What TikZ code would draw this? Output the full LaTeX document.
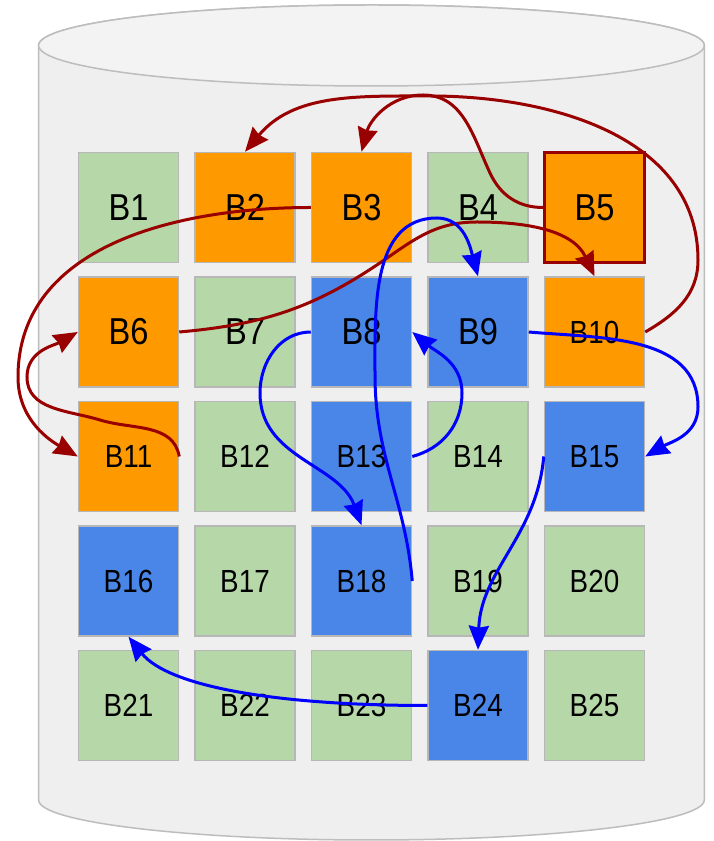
\documentclass[tikz,border=0pt]{standalone}
\usepackage{fontspec}
\setmainfont{Liberation Sans}[FakeStretch=0.87]
\usetikzlibrary{arrows.meta}
\definecolor{blkgreen}{HTML}{B6D7A8}
\definecolor{blkorange}{HTML}{FF9900}
\definecolor{blkblue}{HTML}{4A86E8}
\definecolor{blkline}{HTML}{B7B7B7}
\definecolor{linkred}{HTML}{990000}
\definecolor{linkblue}{HTML}{0000FF}
\definecolor{cylfill}{HTML}{EFEFEF}
\definecolor{cyltop}{HTML}{F3F3F3}
\definecolor{cylline}{HTML}{BDBDBD}
\newcommand{\blkbigfont}{\fontsize{37.5}{40}\selectfont}
\newcommand{\blksmallfont}{\fontsize{32}{34}\selectfont}

\begin{document}
\begin{tikzpicture}[
  x=1pt, y=1pt,
  blk/.style={rectangle, minimum width=100pt, minimum height=110pt, inner sep=0pt, draw=blkline, line width=1.5pt, text=black},
  greenblk/.style={blk, fill=blkgreen},
  orangeblk/.style={blk, fill=blkorange},
  blueblk/.style={blk, fill=blkblue},
  selblk/.style={orangeblk, draw=linkred, line width=3pt},
  redarr/.style={-{Stealth[length=24pt, width=20pt, inset=2pt]}, line width=3pt, draw=linkred},
  bluearr/.style={-{Stealth[length=24pt, width=20pt, inset=2pt]}, line width=3pt, draw=linkblue}
]
  \fill[white] (0,0) rectangle (714,841);
  \useasboundingbox (0,0) rectangle (714,841);

  % disk (cylinder)
  \fill[cylfill, draw=cylline, line width=1.5pt] (38.6,795.5) -- (38.6,41)
    arc[start angle=180, end angle=360, x radius=332.85, y radius=40] -- (704.3,795.5)
    arc[start angle=0, end angle=180, x radius=332.85, y radius=40.5] -- cycle;
  \filldraw[fill=cyltop, draw=cylline, line width=1.5pt] (371.45,795.5) ellipse[x radius=332.85, y radius=40.5];

  % blocks
  \foreach \n/\kind in {1/greenblk, 2/orangeblk, 3/orangeblk, 4/greenblk, 5/selblk,
                        6/orangeblk, 7/greenblk, 8/blueblk, 9/blueblk, 10/orangeblk,
                        11/orangeblk, 12/greenblk, 13/blueblk, 14/greenblk, 15/blueblk,
                        16/blueblk, 17/greenblk, 18/blueblk, 19/greenblk, 20/greenblk,
                        21/greenblk, 22/greenblk, 23/greenblk, 24/blueblk, 25/greenblk} {
    \pgfmathsetmacro{\bx}{128.5+116.5*mod(\n-1,5)}
    \pgfmathsetmacro{\by}{633.5-124.5*floor((\n-1)/5)}
    \ifnum\n<10 \def\blkfont{\blkbigfont}\else\def\blkfont{\blksmallfont}\fi
    \node[\kind, font=\blkfont] (B\n) at (\bx,\by) {B\n};
  }

  % red moves
  \draw[redarr] (B10.east) to[out=30,in=-90] (698,581) to[out=90,in=0] (430,745) to[out=180,in=50] (B2.north);
  \draw[redarr] (B5.west) to[out=180,in=-65] (490,668) to[out=115,in=0] (423,746) to[out=180,in=75] (B3.north);
  \draw[redarr] (B3.west) to[out=180,in=90] (18,464) to[out=-90,in=150] (B11.west);
  \draw[redarr] (B11.east) to[out=100,in=-17] (100,421) to[out=163,in=-90] (27,464) to[out=90,in=-150] (B6.west);
  \draw[redarr] (B6.east) to[out=5,in=-145] (390,585) to[out=35,in=180] (477,619) to[out=0,in=115] (B10.north);

  % blue moves
  \draw[bluearr] (B18.east) to[out=95,in=-90] (375,466) to[out=90,in=180] (437,623) to[out=0,in=105] (B9.north);
  \draw[bluearr] (B8.west) to[out=180,in=90] (260,448) to[out=-90,in=110] (B18.north);
  \draw[bluearr] (B13.east) to[out=15,in=-90] (462,448) to[out=90,in=-40] (B8.east);
  \draw[bluearr] (B9.east) to[out=-5,in=90] (698,434) to[out=-90,in=30] (B15.east);
  \draw[bluearr] (B15.west) to[out=-95,in=88] (B24.north);
  \draw[bluearr] (B24.west) .. controls +(-150,0) and +(40,-50) .. (B16.south);
\end{tikzpicture}
\end{document}
